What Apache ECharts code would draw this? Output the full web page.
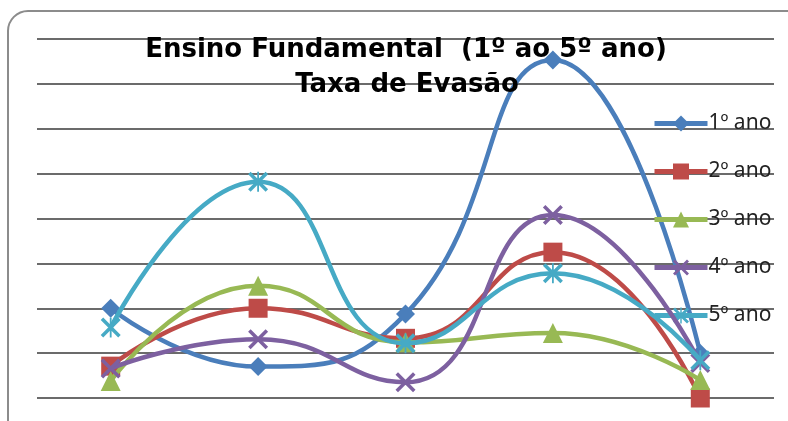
<!DOCTYPE html>
<html>
<head>
<meta charset="utf-8">
<script src="https://cdn.jsdelivr.net/npm/echarts@6/dist/echarts.min.js"></script>
<style>
html,body{margin:0;padding:0;background:#fff;}
#main{width:788px;height:421px;}
</style>
</head>
<body>
<div id="main"></div>
<script>
var categories = ['A', 'B', 'C', 'D', 'E'];
var seriesNames = ['1º ano', '2º ano', '3º ano', '4º ano', '5º ano'];
var ano1 = [2.0, 0.7, 1.87, 7.53, 0.99];
var ano2 = [0.71, 2.0, 1.33, 3.25, 0.0];
var ano3 = [0.38, 2.5, 1.24, 1.45, 0.4];
var ano4 = [0.66, 1.31, 0.35, 4.08, 0.78];
var ano5 = [1.57, 4.82, 1.22, 2.78, 0.84];
var titleLine1 = 'Ensino Fundamental  (1º ao 5º ano)';
var titleLine2 = 'Taxa de Evasão';

var colors = ['#4A7EBB', '#BE4B48', '#98B954', '#7D60A0', '#46AAC5'];
var xPath = 'path://M0,2.5 L2.5,0 L20,17.5 L17.5,20 Z M17.5,0 L20,2.5 L2.5,20 L0,17.5 Z';
var starPath = 'path://M0,2.5 L2.5,0 L20,17.5 L17.5,20 Z M17.5,0 L20,2.5 L2.5,20 L0,17.5 Z M9.1,0 L10.9,0 L10.9,20 L9.1,20 Z';
var symbols = ['diamond', 'rect', 'triangle', xPath, starPath];
var sizes = [19, 19, 20, 20, 20];
var data = [ano1, ano2, ano3, ano4, ano5];

var chart = echarts.init(document.getElementById('main'));
var series = data.map(function (d, i) {
  return {
    name: seriesNames[i],
    type: 'line',
    data: d,
    smooth: 0.5,
    symbol: symbols[i],
    symbolSize: sizes[i],
    showAllSymbol: true,
    lineStyle: { width: 4.5, color: colors[i] },
    itemStyle: { color: colors[i] },
    z: 2 + i
  };
});

chart.setOption({
  animation: false,
  backgroundColor: '#fff',
  grid: { left: 37, top: 39, width: 737, height: 359, containLabel: false },
  xAxis: {
    type: 'category',
    data: categories,
    boundaryGap: true,
    axisLine: { show: false },
    axisTick: { show: false },
    axisLabel: { show: false },
    splitLine: { show: false }
  },
  yAxis: {
    type: 'value',
    min: 0,
    max: 8,
    interval: 1,
    axisLine: { show: false },
    axisTick: { show: false },
    axisLabel: { show: false },
    splitLine: { show: true, lineStyle: { color: '#3a3a3a', width: 1.5 } }
  },
  legend: {
    orient: 'vertical',
    left: 647,
    top: 108,
    itemWidth: 53,
    itemHeight: 20,
    itemGap: 27,
    data: seriesNames,
    lineStyle: { width: 5 },
    textStyle: { fontFamily: 'Noto Sans', fontSize: 21, color: '#222', lineHeight: 20, padding: [0, 0, 0, -4] }
  },
  graphic: [
    {
      type: 'rect',
      shape: { x: 8, y: 11, width: 800, height: 430, r: 20 },
      style: { fill: 'none', stroke: '#8c8c8c', lineWidth: 2 },
      z: 0, silent: true
    },
    {
      type: 'text',
      x: 406, y: 50,
      style: { text: titleLine1, fontFamily: 'DejaVu Sans', fontWeight: 'bold', fontSize: 26, fill: '#000', textAlign: 'center', textVerticalAlign: 'middle' },
      z: 100
    },
    {
      type: 'text',
      x: 407, y: 85,
      style: { text: titleLine2, fontFamily: 'DejaVu Sans', fontWeight: 'bold', fontSize: 26, fill: '#000', textAlign: 'center', textVerticalAlign: 'middle' },
      z: 100
    }
  ],
  series: series
});
</script>
</body>
</html>
